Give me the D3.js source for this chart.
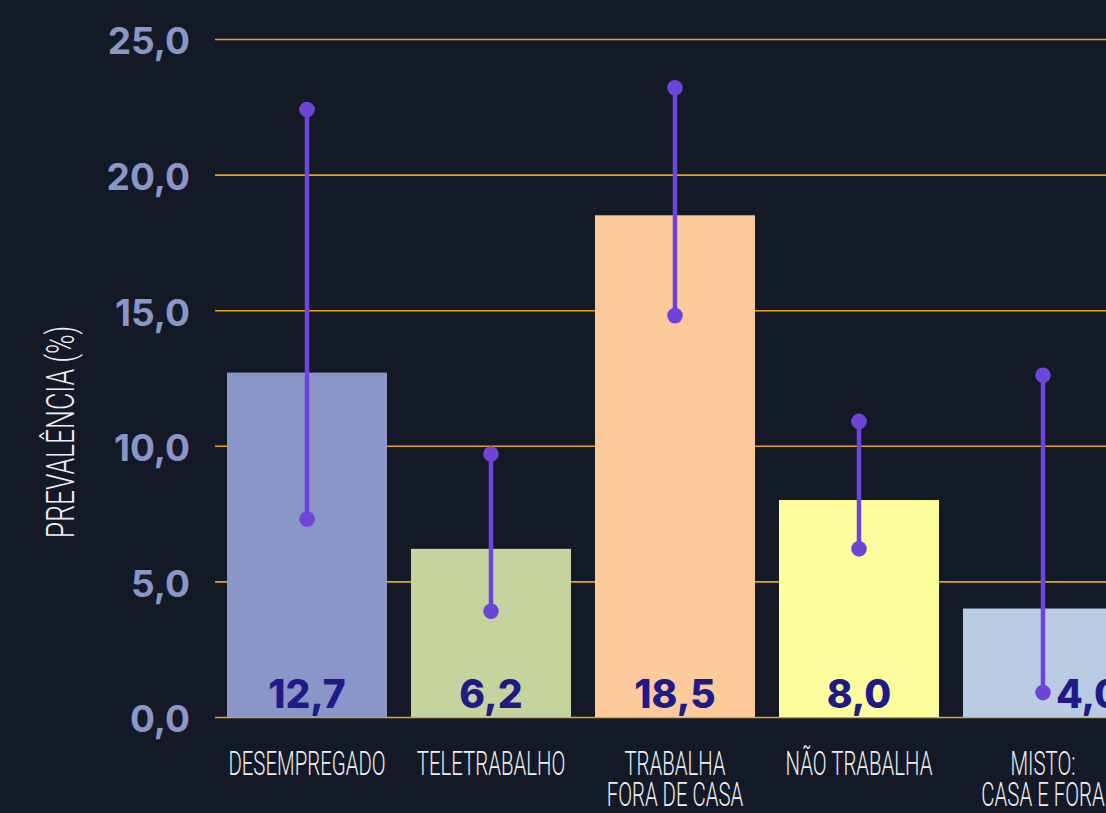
<!DOCTYPE html>
<html>
<head>
<meta charset="utf-8">
<script src="https://cdn.jsdelivr.net/npm/d3@7"></script>
<style>
  html, body { margin: 0; padding: 0; background: #131a25; overflow: hidden; }
  svg { display: block; }
</style>
</head>
<body>
<svg id="chart" width="1106" height="813"></svg>
<script>
// Prevalence by work situation, with confidence intervals
const categories = ["DESEMPREGADO", "TELETRABALHO", "TRABALHA\nFORA DE CASA", "NÃO TRABALHA", "MISTO:\nCASA E FORA"];
const prevalence = [12.7, 6.2, 18.5, 8.0, 4.0];
const ciLow  = [7.3, 3.9, 14.8, 6.2, 0.9];
const ciHigh = [22.4, 9.7, 23.2, 10.9, 12.6];
const barColors = ["#8b96c8", "#c5d49e", "#fdca9b", "#fdfd9d", "#b9cce4"];
const yTicks = [0, 5, 10, 15, 20, 25];
const yTitle = "PREVALÊNCIA (%)";

const svg = d3.select("#chart");
const fmt = v => d3.format(".1f")(v).replace(".", ",");
const condensedFont = "Roboto, 'Liberation Sans', sans-serif";

const x = d3.scaleBand()
  .domain(categories)
  .range([215, 1135])
  .paddingInner(24 / 184)
  .paddingOuter(12 / 184);

const y = d3.scaleLinear().domain([0, 25]).range([717, 39]);

// Gridlines with tick labels
const yAxis = d3.axisLeft(y)
  .tickValues(yTicks)
  .tickSize(-(1135 - 215))
  .tickPadding(25)
  .tickFormat(fmt);

const gy = svg.append("g")
  .attr("transform", "translate(215,0)")
  .call(yAxis);
gy.select(".domain").remove();
gy.selectAll(".tick line")
  .attr("stroke", "#e8a31c")
  .attr("stroke-width", 1.6);
gy.selectAll(".tick text")
  .attr("fill", "#8b96c8")
  .attr("font-family", "Inter, 'DejaVu Sans', sans-serif")
  .attr("font-weight", 700)
  .attr("font-size", 37)
  .attr("dy", "0.40em");

// Axis title (condensed by horizontal scaling)
svg.append("text")
  .attr("transform", "translate(74,432) rotate(-90) scale(0.68,1)")
  .attr("text-anchor", "middle")
  .attr("fill", "#eef0f4")
  .attr("font-family", condensedFont)
  .attr("font-weight", 300)
  .attr("font-size", 39)
  .text(yTitle);

const data = categories.map((c, i) => ({
  cat: c, value: prevalence[i], lo: ciLow[i], hi: ciHigh[i], color: barColors[i]
}));

// Bars
svg.append("g").selectAll("rect")
  .data(data)
  .join("rect")
  .attr("x", d => x(d.cat))
  .attr("y", d => y(d.value))
  .attr("width", x.bandwidth())
  .attr("height", d => y(0) - y(d.value))
  .attr("fill", d => d.color);

// Value labels inside the bar base; moved beside the CI dot when it sits low
const labelTop = 2.5;
svg.append("g").selectAll("text")
  .data(data)
  .join("text")
  .attr("x", d => x(d.cat) + x.bandwidth() / 2 + (d.lo < labelTop ? 13 : 0))
  .attr("y", 708)
  .attr("text-anchor", d => d.lo < labelTop ? "start" : "middle")
  .attr("fill", "#201a87")
  .attr("font-family", "Inter, 'DejaVu Sans', sans-serif")
  .attr("font-weight", 800)
  .attr("font-size", 39)
  .text(d => fmt(d.value));

// Confidence intervals
const ci = svg.append("g").selectAll("g")
  .data(data)
  .join("g")
  .attr("transform", d => `translate(${x(d.cat) + x.bandwidth() / 2},0)`);
ci.append("line")
  .attr("y1", d => y(d.lo))
  .attr("y2", d => y(d.hi))
  .attr("stroke", "#6e44db")
  .attr("stroke-width", 4.5);
ci.selectAll("circle")
  .data(d => [d.lo, d.hi])
  .join("circle")
  .attr("cy", v => y(v))
  .attr("r", 7.8)
  .attr("fill", "#6e44db");

// Category labels
const cl = svg.append("g").selectAll("g")
  .data(data)
  .join("g")
  .attr("transform", d => `translate(${x(d.cat) + x.bandwidth() / 2},775) scale(0.6,1)`);
cl.append("text")
  .attr("text-anchor", "middle")
  .attr("fill", "#eef0f4")
  .attr("font-family", condensedFont)
  .attr("font-weight", 300)
  .attr("font-size", 34)
  .selectAll("tspan")
  .data(d => d.cat.split("\n"))
  .join("tspan")
  .attr("x", 0)
  .attr("dy", (t, i) => i === 0 ? 0 : 31)
  .text(t => t);
</script>
</body>
</html>
